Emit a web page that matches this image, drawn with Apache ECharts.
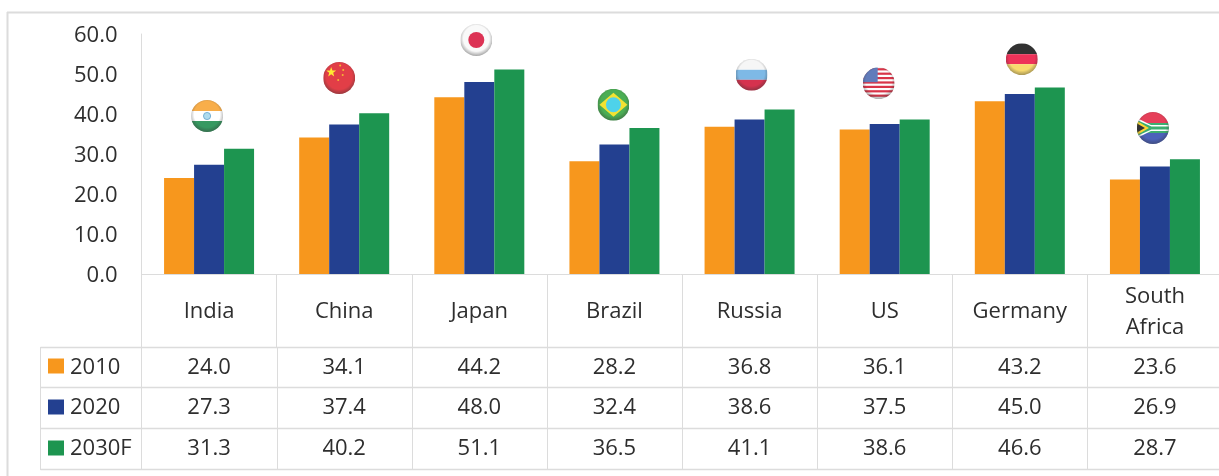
<!DOCTYPE html>
<html><head><meta charset="utf-8">
<style>html,body{margin:0;padding:0;background:#fff;overflow:hidden}#c{width:1219px;height:476px}</style>
<script src="https://cdn.jsdelivr.net/npm/echarts@6/dist/echarts.min.js"></script>
</head><body><div id="c"></div>
<script>
const categories = ['India','China','Japan','Brazil','Russia','US','Germany','South\nAfrica'];
const yTicks = [0,10,20,30,40,50,60];
const seriesNames = ['2010','2020','2030F'];
const values2010 = [24.0,34.1,44.2,28.2,36.8,36.1,43.2,23.6];
const values2020 = [27.3,37.4,48.0,32.4,38.6,37.5,45.0,26.9];
const values2030 = [31.3,40.2,51.1,36.5,41.1,38.6,46.6,28.7];
const flagLevels = [39.5,49,58.5,42.3,49.8,47.7,53.7,36.5];
const flagShift = [-2,-5,-3,-1,2,-6,2,-2];

const colors = ['#F7971D','#234090','#1D9550'];
const ink = '#2e2e2e', rule = '#dcdcdc', FONT = '"Open Sans", sans-serif', FS = 22;

function flag(body){
  const svg = `<svg xmlns="http://www.w3.org/2000/svg" width="64" height="64" viewBox="0 0 32 32"><defs>
<clipPath id="k"><circle cx="16" cy="16" r="16"/></clipPath>
<radialGradient id="g" cx="50%" cy="45%" r="56%"><stop offset="72%" stop-color="#000" stop-opacity="0"/><stop offset="100%" stop-color="#000" stop-opacity="0.45"/></radialGradient>
</defs><g clip-path="url(#k)">${body}<rect width="32" height="32" fill="url(#g)"/></g></svg>`;
  return 'image://data:image/svg+xml;charset=utf-8,' + encodeURIComponent(svg);
}
const R = (y,h,c) => `<rect x="0" y="${y}" width="32" height="${h}" fill="${c}"/>`;
let usStripes = '';
for (let i=0;i<7;i++) usStripes += R(1+i*4.4,2.2,'#d0021b');
const flagImages = [
  flag(R(0,11,'#f79a1e')+R(11,10,'#fff')+R(21,11,'#06803a')+'<circle cx="16" cy="16" r="3.6" fill="#9bd3ea" stroke="#2a7fb8" stroke-width="0.7"/>'),
  flag(R(0,32,'#dc0f1a')+'<polygon points="8,5 9.2,8.6 13,8.6 10,10.8 11,14.4 8,12.2 5,14.4 6,10.8 3,8.6 6.8,8.6" fill="#ffe600"/><circle cx="17" cy="3.5" r="1" fill="#f5a800"/><circle cx="20" cy="8" r="1" fill="#f5a800"/><circle cx="19.5" cy="13" r="1" fill="#f5a800"/><circle cx="15" cy="18" r="1" fill="#f5a800"/>'),
  flag(R(0,32,'#f8f8f8')+'<circle cx="16" cy="16" r="8" fill="#d4002a"/>'),
  flag(R(0,32,'#1f9a2a')+'<polygon points="16,4 30,16 16,28 2,16" fill="#f0dc00"/><circle cx="16" cy="16" r="7.5" fill="#22c8e6"/>'),
  flag(R(0,11,'#f4f4f4')+R(11,10,'#5fa8e0')+R(21,11,'#cc0022')),
  flag(R(0,32,'#fdfdfd')+usStripes+'<rect x="0" y="0" width="15" height="15" fill="#3a5cab"/>'),
  flag(R(0,11,'#000')+R(11,10,'#ea0030')+R(21,11,'#f7d24a')),
  flag(R(0,11,'#e01030')+R(21,11,'#1f3aa8')+R(11,10,'#0c9c4c')+'<path d="M0 6 L14 13 H32 V19 H14 L0 26 Z" fill="#fff"/><path d="M0 8 L14.5 14.5 H32 V17.5 H14.5 L0 24 Z" fill="#0c9c4c"/><polygon points="0,9 12,16 0,23" fill="#ffcc00"/><polygon points="0,11.5 8,16 0,20.5" fill="#000"/>')
];

const chart = echarts.init(document.getElementById('c'), null, {renderer:'canvas'});
const bar = (name,data,i) => ({name,type:'bar',data,barWidth:30,barGap:'0%',itemStyle:{color:colors[i]},silent:true});
chart.setOption({
  animation:false,
  backgroundColor:'#fff',
  grid:{left:141.5,top:34,width:1081,height:240,containLabel:false,outerBoundsMode:'none'},
  legend:{
    data:seriesNames,orient:'vertical',left:48,top:358.5,itemWidth:16,itemHeight:15,itemGap:26,
    icon:'rect',selectedMode:false,padding:0,formatter:()=>'',
    textStyle:{fontSize:1}
  },
  xAxis:{
    type:'category',data:categories,
    axisLine:{lineStyle:{color:rule,width:1}},
    axisTick:{show:true,length:73,lineStyle:{color:rule,width:1}},
    axisLabel:{color:ink,fontFamily:FONT,fontSize:FS,lineHeight:31,margin:38,interval:0,verticalAlign:'middle'}
  },
  yAxis:{
    type:'value',min:yTicks[0],max:yTicks[yTicks.length-1],interval:10,
    splitLine:{show:false},axisTick:{show:false},
    axisLine:{show:true,lineStyle:{color:rule,width:1}},
    axisLabel:{margin:24,formatter:v=>'{n|'+v.toFixed(1)+'}',
      rich:{n:{color:ink,fontFamily:FONT,fontSize:FS,padding:[3,0,0,0]}}}
  },
  series:[
    bar(seriesNames[0],values2010,0),
    bar(seriesNames[1],values2020,1),
    bar(seriesNames[2],values2030,2),
    {name:'flags',type:'scatter',clip:false,silent:true,z:5,
     data:flagLevels.map((v,i)=>({value:[i,v],symbol:flagImages[i],symbolSize:32,symbolOffset:[flagShift[i],0]}))}
  ]
});

const xs = categories.map((_,i)=>chart.convertToPixel({xAxisIndex:0},i));
const L = (x1,y1,x2,y2,w) => ({type:'line',silent:true,z:1,shape:{x1,y1,x2,y2},style:{stroke:rule,lineWidth:w||1}});
const rowLines = [347.5,387.5,428.5,469.5], rowText = [368,408,449];
const g = [L(7,12.5,1219,12.5,2),L(7.5,12,7.5,476,2)];
rowLines.forEach(y=>g.push(L(40.5,y,1219,y,1.5)));
g.push(L(40.5,347,40.5,470),L(141.5,274,141.5,470));
for(let i=1;i<=7;i++){const x=Math.round((xs[i-1]+xs[i])/2)+0.5;g.push(L(x,347,x,470));}
const txt = (text,x,y,align) => ({type:'text',silent:true,z:3,x,y,
  style:{text,fill:ink,font:FS+'px '+FONT,align,verticalAlign:'middle'}});
seriesNames.forEach((n,r)=>g.push(txt(n,70,rowText[r],'left')));
[values2010,values2020,values2030].forEach((arr,r)=>arr.forEach((v,i)=>g.push(txt(v.toFixed(1),xs[i],rowText[r],'center'))));
chart.setOption({graphic:g});
</script></body></html>
